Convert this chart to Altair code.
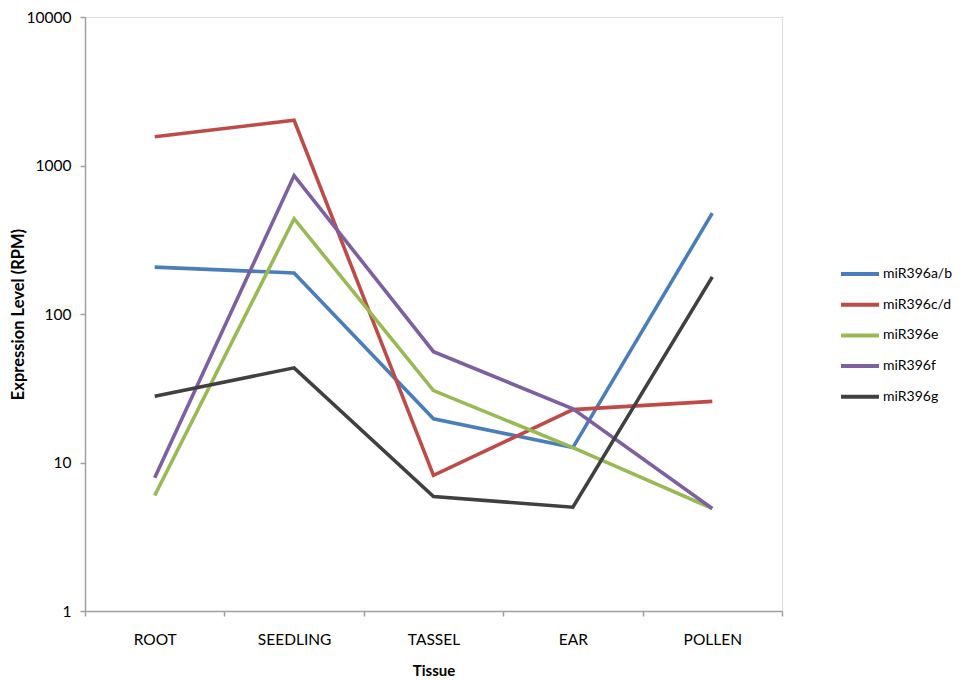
import altair as alt
import pandas as pd

tissues = ["ROOT", "SEEDLING", "TASSEL", "EAR", "POLLEN"]
series_names = ["miR396a/b", "miR396c/d", "miR396e", "miR396f", "miR396g"]
mir396ab = [207, 189, 19.7, 12.6, 478]
mir396cd = [1560, 2018, 8.2, 22.7, 25.8]
mir396e = [6.0, 438, 30.5, 12.6, 4.9]
mir396f = [7.9, 855, 55.7, 23.0, 4.9]
mir396g = [27.9, 43.4, 5.9, 5.0, 178]
colors = ["#4A7EBB", "#BE4B48", "#98B954", "#7D60A0", "#404040"]
y_ticks = [1, 10, 100, 1000, 10000]

rows = []
for name, vals in zip(series_names, [mir396ab, mir396cd, mir396e, mir396f, mir396g]):
    for t, v in zip(tissues, vals):
        rows.append({"Tissue": t, "Series": name, "Value": v})
df = pd.DataFrame(rows)

FONT = "Lato"

chart = alt.Chart(df).mark_line(strokeWidth=3.6).encode(
    x=alt.X("Tissue:N", sort=tissues, bandPosition=0.5,
            scale=alt.Scale(type="band", domain=tissues, paddingInner=0, paddingOuter=0),
            axis=alt.Axis(title="Tissue", labelAngle=0, tickBand="extent",
                          tickSize=5, labelPadding=16, titlePadding=16,
                          domainColor="#A0A0A0", tickColor="#A0A0A0", domainWidth=1.5, tickWidth=1.5,
                          labelFont=FONT, labelFontSize=15.5, labelColor="#000",
                          titleFont=FONT, titleFontSize=15, titleFontWeight="bold", titleColor="#000")),
    y=alt.Y("Value:Q",
            scale=alt.Scale(type="log", domain=[1, 10000], nice=False),
            axis=alt.Axis(title="Expression Level (RPM)", values=y_ticks, format="d",
                          tickSize=5, labelPadding=9, titlePadding=0, grid=False,
                          domainColor="#A0A0A0", tickColor="#A0A0A0", domainWidth=1.5, tickWidth=1.5,
                          labelFont=FONT, labelFontSize=15.5, labelColor="#000",
                          titleFont=FONT, titleFontSize=16.5, titleFontWeight="bold", titleColor="#000")),
    color=alt.Color("Series:N", sort=series_names,
                    scale=alt.Scale(domain=series_names, range=colors),
                    legend=alt.Legend(title=None, orient="none", legendX=754, legendY=236,
                                      symbolType="stroke", symbolSize=1444, symbolStrokeWidth=4,
                                      rowPadding=1.7, labelOffset=2, padding=0,
                                      labelFont=FONT, labelFontSize=14, labelColor="#000")),
).properties(
    width=697, height=594,
    autosize=alt.AutoSizeParams(type="none"),
    padding={"left": 77, "top": 9, "right": 170, "bottom": 69},
).configure_view(stroke=None).configure(background="white")

chart.save("out.html", embed_options={"renderer": "svg", "actions": False})
